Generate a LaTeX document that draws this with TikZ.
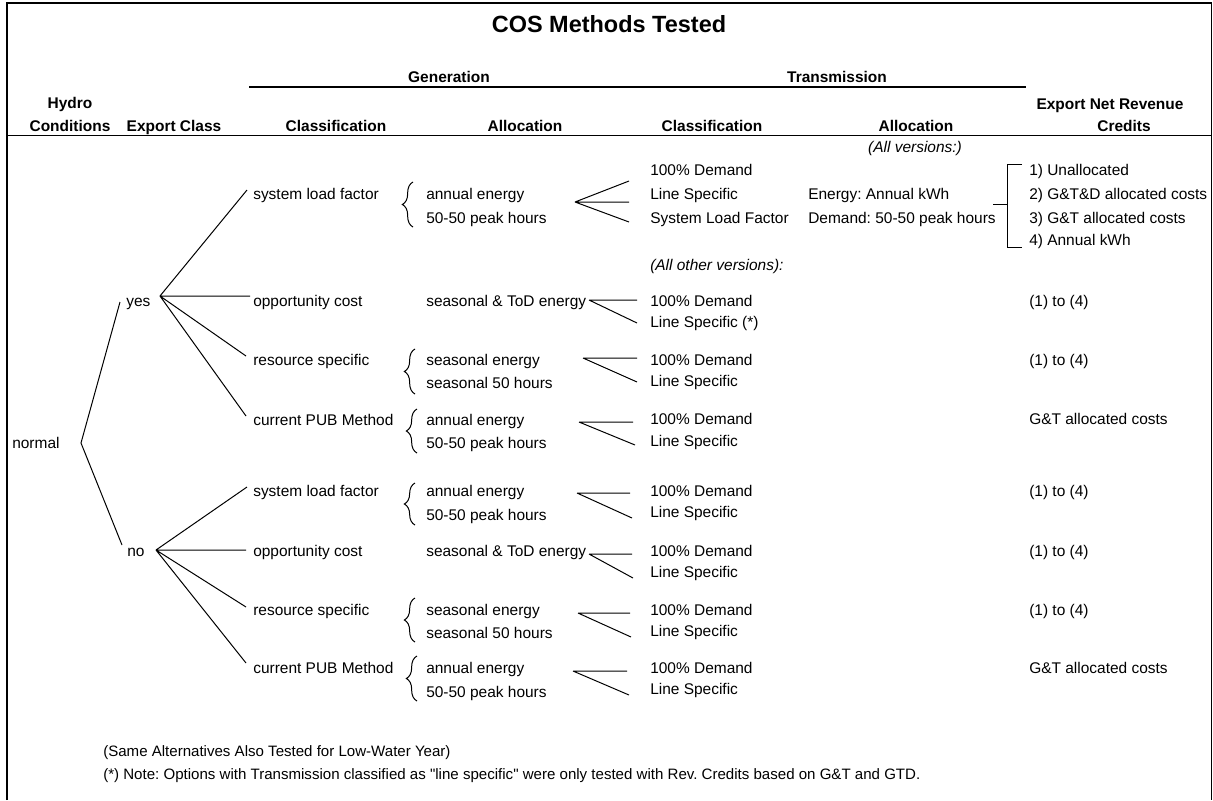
\documentclass[tikz,border=0pt]{standalone}
\usepackage{fontspec}
\setmainfont{Liberation Sans}[Ligatures=TeXOff]
\usetikzlibrary{decorations.pathreplacing}
\newcommand\bodyfs{\fontsize{11.6}{13}\selectfont}
\newcommand\notefs{\fontsize{11.3}{13}\selectfont}
\frenchspacing
\begin{document}
\begin{tikzpicture}[x=0.75pt,y=-0.75pt,
  txt/.style={anchor=base west, inner sep=0pt, font=\bodyfs},
  hdr/.style={anchor=base, inner sep=0pt, font=\bodyfs\bfseries},
  ital/.style={anchor=base west, inner sep=0pt, font=\bodyfs\itshape},
  notetxt/.style={anchor=base west, inner sep=0pt, font=\notefs},
  ln/.style={line width=0.75pt},
  rulex/.style={line width=1.2pt},
  brc/.style={decorate, decoration={brace, amplitude=8pt}, line width=0.75pt}]
\useasboundingbox (0,0) rectangle (1213,800);
% frame
\draw[rulex] (7,800) -- (7,3) -- (1211.5,3) -- (1211.5,800);
% title and headers
\node[anchor=base, inner sep=0pt, font=\fontsize{17.6}{20}\selectfont\bfseries] (title) at (609,32) {COS Methods Tested};
\node[hdr] (hGen) at (449,82) {Generation};
\node[hdr] (hTra) at (837,82) {Transmission};
\draw[rulex] (249,87) -- (1026,87);
\node[hdr] (hHy1) at (70,108) {Hydro};
\node[hdr] (hHy2) at (70,131) {Conditions};
\node[hdr] (hExp) at (174,131) {Export Class};
\node[hdr] (hGC) at (336,131) {Classification};
\node[hdr] (hGA) at (525,131) {Allocation};
\node[hdr] (hTC) at (712,131) {Classification};
\node[hdr] (hTA) at (916,131) {Allocation};
\node[hdr] (hCr1) at (1110,109) {Export Net Revenue};
\node[hdr] (hCr2) at (1124,131) {Credits};
\draw[rulex] (7,135.5) -- (1211.5,135.5);
\node[anchor=base, inner sep=0pt, font=\bodyfs\itshape] (allv) at (915,152) {(All versions:)};
\node[ital] (allo) at (650,270) {(All other versions):};

% hydro / export class
\node[txt] (normal) at (12,448) {normal};
\node[txt] (yes) at (126,306) {yes};
\node[txt] (no) at (127,556) {no};
\coordinate (nF) at (81,443);
\coordinate (yE) at (120,302);
\coordinate (noE) at (122,545);
\draw[ln] (yE) -- (nF) -- (noE);

% generation classification
\node[txt] (sysY) at (253,199) {system load factor};
\node[txt] (oppY) at (253,306) {opportunity cost};
\node[txt] (resY) at (253,365) {resource specific};
\node[txt] (pubY) at (253,425) {current PUB Method};
\node[txt] (sysN) at (253,496) {system load factor};
\node[txt] (oppN) at (253,556) {opportunity cost};
\node[txt] (resN) at (253,615) {resource specific};
\node[txt] (pubN) at (253,673) {current PUB Method};

\coordinate (yF) at (160,296);
\coordinate (sysYE) at (247,190);
\coordinate (oppYE) at (250,296);
\coordinate (resYE) at (246,356);
\coordinate (pubYE) at (246,416);
\draw[ln] (yF) -- (sysYE) (yF) -- (oppYE) (yF) -- (resYE) (yF) -- (pubYE);
\coordinate (nF2) at (156,550);
\coordinate (sysNE) at (247,487);
\coordinate (oppNE) at (246,550);
\coordinate (resNE) at (246,607);
\coordinate (pubNE) at (246,663);
\draw[ln] (nF2) -- (sysNE) (nF2) -- (oppNE) (nF2) -- (resNE) (nF2) -- (pubNE);

% generation allocation
\node[txt] (gaY1a) at (426,199) {annual energy};
\node[txt] (gaY1b) at (426,223) {50-50 peak hours};
\node[txt] (gaY2) at (426,306) {seasonal \& ToD energy};
\node[txt] (gaY3a) at (426,365) {seasonal energy};
\node[txt] (gaY3b) at (426,388) {seasonal 50 hours};
\node[txt] (gaY4a) at (426,425) {annual energy};
\node[txt] (gaY4b) at (426,448) {50-50 peak hours};
\node[txt] (gaN1a) at (426,496) {annual energy};
\node[txt] (gaN1b) at (426,520) {50-50 peak hours};
\node[txt] (gaN2) at (426,556) {seasonal \& ToD energy};
\node[txt] (gaN3a) at (426,615) {seasonal energy};
\node[txt] (gaN3b) at (426,638) {seasonal 50 hours};
\node[txt] (gaN4a) at (426,673) {annual energy};
\node[txt] (gaN4b) at (426,697) {50-50 peak hours};

% braces
\draw[brc] (413,227) -- (413,182);
\draw[brc] (415,394) -- (415,349);
\draw[brc] (417,453) -- (417,409);
\draw[brc] (415,525) -- (415,483);
\draw[brc] (415,642) -- (415,598);
\draw[brc] (417,701) -- (417,656);

% transmission classification
\node[txt] (t1a) at (650,175) {100\% Demand};
\node[txt] (t1b) at (650,199) {Line Specific};
\node[txt] (t1c) at (650,223) {System Load Factor};
\node[txt] (t2a) at (650,306) {100\% Demand};
\node[txt] (t2b) at (650,327) {Line Specific (*)};
\node[txt] (t3a) at (650,365) {100\% Demand};
\node[txt] (t3b) at (650,386) {Line Specific};
\node[txt] (t4a) at (650,424) {100\% Demand};
\node[txt] (t4b) at (650,446) {Line Specific};
\node[txt] (t5a) at (650,496) {100\% Demand};
\node[txt] (t5b) at (650,517) {Line Specific};
\node[txt] (t6a) at (650,556) {100\% Demand};
\node[txt] (t6b) at (650,577) {Line Specific};
\node[txt] (t7a) at (650,615) {100\% Demand};
\node[txt] (t7b) at (650,636) {Line Specific};
\node[txt] (t8a) at (650,673) {100\% Demand};
\node[txt] (t8b) at (650,694) {Line Specific};

% forks to transmission
\coordinate (f1) at (575,202);
\coordinate (f1a) at (629,181);
\coordinate (f1b) at (629,202);
\coordinate (f1c) at (629,222);
\draw[ln] (f1) -- (f1a) (f1) -- (f1b) (f1) -- (f1c);
\coordinate (f2) at (589,300);
\coordinate (f2a) at (637,300);
\coordinate (f2b) at (637,323);
\draw[ln] (f2) -- (f2a) (f2) -- (f2b);
\coordinate (f3) at (583,358);
\coordinate (f3a) at (637,358);
\coordinate (f3b) at (637,382);
\draw[ln] (f3) -- (f3a) (f3) -- (f3b);
\coordinate (f4) at (579,422);
\coordinate (f4a) at (633,422);
\coordinate (f4b) at (635,445);
\draw[ln] (f4) -- (f4a) (f4) -- (f4b);
\coordinate (f5) at (577,493);
\coordinate (f5a) at (630,493);
\coordinate (f5b) at (632,518);
\draw[ln] (f5) -- (f5a) (f5) -- (f5b);
\coordinate (f6) at (589,554);
\coordinate (f6a) at (632,554);
\coordinate (f6b) at (633,578);
\draw[ln] (f6) -- (f6a) (f6) -- (f6b);
\coordinate (f7) at (578,613);
\coordinate (f7a) at (630,613);
\coordinate (f7b) at (631,637);
\draw[ln] (f7) -- (f7a) (f7) -- (f7b);
\coordinate (f8) at (573,671);
\coordinate (f8a) at (627,671);
\coordinate (f8b) at (629,695);
\draw[ln] (f8) -- (f8a) (f8) -- (f8b);

% transmission allocation
\node[txt] (ta1) at (808,199) {Energy: Annual kWh};
\node[txt] (ta2) at (808,223) {Demand: 50-50 peak hours};

% credits bracket
\coordinate (bS) at (993,204);
\coordinate (bM) at (1007,204);
\coordinate (bT) at (1007,164);
\coordinate (bB) at (1007,247);
\coordinate (bTe) at (1022,164);
\coordinate (bBe) at (1022,247);
\draw[ln] (bS) -- (bM);
\draw[ln] (bTe) -- (bT) -- (bB) -- (bBe);

% credits
\node[txt] (c1) at (1029,175) {1) Unallocated};
\node[txt] (c2) at (1029,199) {2) G\&T\&D allocated costs};
\node[txt] (c3) at (1029,223) {3) G\&T allocated costs};
\node[txt] (c4) at (1029,245) {4) Annual kWh};
\node[txt] (c5) at (1029,306) {(1) to (4)};
\node[txt] (c6) at (1029,365) {(1) to (4)};
\node[txt] (c7) at (1029,424) {G\&T allocated costs};
\node[txt] (c8) at (1029,496) {(1) to (4)};
\node[txt] (c9) at (1029,556) {(1) to (4)};
\node[txt] (c10) at (1029,615) {(1) to (4)};
\node[txt] (c11) at (1029,673) {G\&T allocated costs};

% notes
\node[notetxt] (note1) at (103,756) {(Same Alternatives Also Tested for Low-Water Year)};
\node[notetxt] (note2) at (103,779) {(*) Note: Options with Transmission classified as "line specific" were only tested with Rev. Credits based on G\&T and GTD.};
\end{tikzpicture}
\end{document}
